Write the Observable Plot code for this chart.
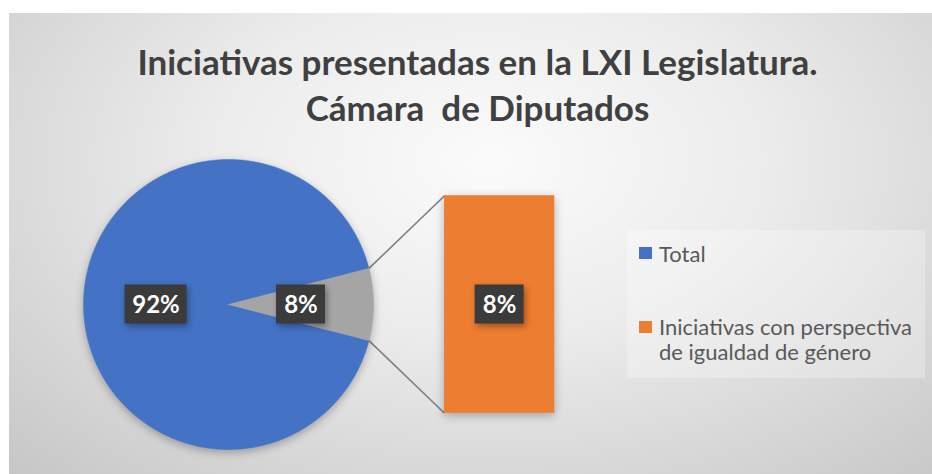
<!DOCTYPE html>
<html>
<head>
<meta charset="utf-8">
<script src="https://cdn.jsdelivr.net/npm/d3@7"></script>
<script src="https://cdn.jsdelivr.net/npm/@observablehq/plot@0.6"></script>
<style>
  body { margin: 0; background: #ffffff; width: 932px; height: 474px; overflow: hidden; position: relative; }
  #frame {
    position: absolute; left: 9px; top: 13px; width: 923px; height: 461px; overflow: hidden;
    background: radial-gradient(ellipse 75% 95% at 52% 32%, #fbfbfb 0%, #ececec 40%, #d6d6d6 75%, #c6c6c6 100%);
    font-family: Lato, "Open Sans", sans-serif;
  }
  #title {
    height: 130px; box-sizing: border-box; padding-top: 25px; padding-left: 14px;
    text-align: center; font-weight: bold; font-size: 35px; line-height: 46px; color: #404040;
  }
  #chart { position: absolute; left: 0; top: 130px; }
  #legend {
    position: absolute; left: 618px; top: 217px; width: 298px; height: 148px;
    background: rgba(255,255,255,0.28); color: #595959; font-size: 22px; line-height: 25px;
  }
  .item { position: absolute; left: 32px; white-space: nowrap; }
  .sw { position: absolute; left: -20px; width: 13px; height: 12px; }
</style>
</head>
<body>
<div id="frame">
  <div id="title"></div>
  <div id="chart"></div>
  <div id="legend"></div>
</div>
<script>
// ---- data ----
const titleLines = ["Iniciativas presentadas en la LXI Legislatura.", "Cámara  de Diputados"];
const categories = ["Total", "Iniciativas con perspectiva de igualdad de género"];
const legendLines = [["Total"], ["Iniciativas con perspectiva", "de igualdad de género"]];
const shares = [92, 8];            // percent
const seriesColors = ["#4472C4", "#ED7D31"];
const otherColor = "#A5A5A5";      // aggregated slice in the pie
const pieItems = [0];              // indices shown directly in the pie
const barItems = [1];              // indices moved to the secondary bar

// ---- layout ----
const W = 923, H = 331;
const R = 145;                     // pie radius in px (1 data unit)
const cx = 219, cy = 161;          // pie centre inside svg, px
const barX1 = 1.49, barX2 = 2.25;  // bar horizontal extent (pie-radius units)
const barHalf = 0.75;              // bar half height (pie-radius units)

document.getElementById("title").innerHTML = titleLines.map(t => t.replace(/  /g, "&nbsp; ")).join("<br>");

// pie slices: pie items + one aggregated "other" slice
const otherValue = d3.sum(barItems, i => shares[i]);
const total = d3.sum(shares);
const slices = [
  ...pieItems.map(i => ({key: categories[i], value: shares[i], color: seriesColors[i], label: shares[i] + "%"})),
  {key: "Otros", value: otherValue, color: otherColor, label: otherValue + "%"}
];
const otherSpan = 2 * Math.PI * otherValue / total;
let a = otherSpan / 2;
const sliceGeo = [];
for (const s of slices.slice(0, -1)) {
  const span = 2 * Math.PI * s.value / total;
  sliceGeo.push({...s, a0: a, a1: a + span});
  a += span;
}
sliceGeo.push({...slices[slices.length - 1], a0: -otherSpan / 2, a1: otherSpan / 2});

const piePoints = [];
for (const s of sliceGeo) {
  const n = Math.max(2, Math.ceil((s.a1 - s.a0) / (Math.PI / 360)));
  piePoints.push({key: s.key, color: s.color, x: 0, y: 0});
  for (let k = 0; k <= n; k++) {
    const t = s.a0 + (s.a1 - s.a0) * k / n;
    piePoints.push({key: s.key, color: s.color, x: Math.cos(t), y: Math.sin(t)});
  }
  piePoints.push({key: s.key, color: s.color, x: 0, y: 0});
}

// secondary bar segments (stacked)
let cum = 0;
const barSegs = barItems.map(i => {
  const y1 = -barHalf + 2 * barHalf * cum / otherValue;
  cum += shares[i];
  const y2 = -barHalf + 2 * barHalf * cum / otherValue;
  return {key: categories[i], value: shares[i], color: seriesColors[i], x1: barX1, x2: barX2, y1, y2, label: shares[i] + "%"};
});

const oth = sliceGeo[sliceGeo.length - 1];
const connectors = [
  {x1: Math.cos(oth.a1), y1: Math.sin(oth.a1), x2: barX1, y2: barHalf},
  {x1: Math.cos(oth.a0), y1: Math.sin(oth.a0), x2: barX1, y2: -barHalf}
];

const labelPts = [
  ...sliceGeo.map(s => ({x: 0.5 * Math.cos((s.a0 + s.a1) / 2), y: 0.5 * Math.sin((s.a0 + s.a1) / 2), label: s.label})),
  ...barSegs.map(b => ({x: (b.x1 + b.x2) / 2, y: (b.y1 + b.y2) / 2, label: b.label}))
];
const boxW = l => (l.length * 13 + 23) / R;
const boxH = 39 / R;
const labelBoxes = labelPts.map(p => ({x1: p.x - boxW(p.label) / 2, x2: p.x + boxW(p.label) / 2, y1: p.y - boxH / 2, y2: p.y + boxH / 2}));

const chart = Plot.plot({
  width: W, height: H,
  margin: 0,
  style: {background: "transparent", overflow: "visible"},
  x: {domain: [-cx / R, (W - cx) / R], axis: null},
  y: {domain: [-(H - cy) / R, cy / R], axis: null},
  marks: [
    Plot.link(connectors, {x1: "x1", y1: "y1", x2: "x2", y2: "y2", stroke: "#7f7f7f", strokeWidth: 1.6}),
    Plot.line(piePoints, {x: "x", y: "y", z: "key", fill: "color", stroke: "color", strokeWidth: 0.5}),
    Plot.rect(barSegs, {x1: "x1", x2: "x2", y1: "y1", y2: "y2", fill: "color"}),
    Plot.rect(labelBoxes, {x1: "x1", x2: "x2", y1: "y1", y2: "y2", fill: "#3b3b3b"}),
    Plot.text(labelPts, {x: "x", y: "y", text: "label", fill: "white", fontSize: 24, fontWeight: "bold", fontFamily: "Lato, 'Open Sans', sans-serif", dy: 1})
  ]
});
const gl = chart.querySelectorAll('g[aria-label="line"]');
gl.forEach(g => g.style.filter = "drop-shadow(0px 3px 4px rgba(0,0,0,0.28))");
const gr = chart.querySelectorAll('g[aria-label="rect"]');
if (gr[0]) gr[0].style.filter = "drop-shadow(0px 3px 5px rgba(0,0,0,0.28))";
if (gr[1]) gr[1].style.filter = "drop-shadow(2px 3px 3px rgba(0,0,0,0.35))";
document.getElementById("chart").appendChild(chart);

const legend = document.getElementById("legend");
const legendTops = [11, 84];
const swatchTops = [6, 7];
legendLines.forEach((lines, i) => {
  const it = document.createElement("div");
  it.className = "item";
  it.style.top = legendTops[i] + "px";
  it.innerHTML = `<span class="sw" style="background:${seriesColors[i]};top:${swatchTops[i]}px"></span>` + lines.join("<br>");
  legend.appendChild(it);
});
</script>
</body>
</html>
